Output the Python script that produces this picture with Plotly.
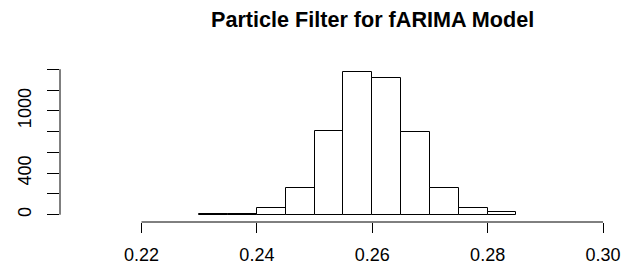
import plotly.graph_objects as go

# Histogram data (bin start, counts)
bin_starts = [0.230, 0.235, 0.240, 0.245, 0.250, 0.255, 0.260, 0.265, 0.270, 0.275, 0.280]
bin_width = 0.005
counts = [10, 6, 64, 259, 807, 1377, 1313, 800, 256, 64, 22]

x_tick_vals = [0.22, 0.24, 0.26, 0.28, 0.30]
x_tick_text = ["0.22", "0.24", "0.26", "0.28", "0.30"]
y_tick_vals = [0, 200, 400, 600, 800, 1000, 1200, 1400]
y_tick_text = ["0", "", "400", "", "", "1000", "", ""]

title = "Particle Filter for fARIMA Model"

centers = [s + bin_width / 2 for s in bin_starts]

fig = go.Figure()
fig.add_trace(go.Bar(
    x=centers, y=counts, width=[bin_width] * len(counts),
    marker=dict(color="white", line=dict(color="black", width=1)),
    hoverinfo="x+y",
))

# axis lines spanning only the tick range (R style)
fig.add_shape(type="line", xref="x", yref="paper", x0=x_tick_vals[0], x1=x_tick_vals[-1], y0=0, y1=0,
              line=dict(color="black", width=1))
fig.add_shape(type="line", xref="paper", yref="y", x0=0, x1=0, y0=y_tick_vals[0], y1=y_tick_vals[-1],
              line=dict(color="black", width=1))

W, H = 626, 271
ml, mr, mt, mb = 60, 0, 50, 49
fig.add_annotation(text="<b>" + title + "</b>", xref="paper", yref="paper",
                   x=(372 - ml) / (W - ml - mr), y=(H - mb - 20) / (H - mt - mb),
                   xanchor="center", yanchor="middle", showarrow=False,
                   font=dict(size=21.6, color="black"))

fig.update_layout(
    width=W, height=H,
    margin=dict(l=ml, r=mr, t=mt, b=mb),
    paper_bgcolor="white", plot_bgcolor="white",
    font=dict(family="Liberation Sans, Arial, sans-serif", size=18, color="black"),
    showlegend=False, bargap=0,
    xaxis=dict(range=[0.205872, 0.303987], tickvals=x_tick_vals, ticktext=x_tick_text,
               ticks="outside", ticklen=10, tickcolor="black", tickwidth=1, ticklabelstandoff=6,
               showline=False, showgrid=False, zeroline=False, fixedrange=True),
    yaxis=dict(range=[-70, 1585], tickvals=y_tick_vals, ticktext=y_tick_text,
               ticks="outside", ticklen=12, tickcolor="black", tickwidth=1, tickangle=-90,
               ticklabelstandoff=9,
               showline=False, showgrid=False, zeroline=False, fixedrange=True),
)

fig.write_html("out.html", config={"displayModeBar": False},
               post_script="document.body.style.margin='0px';document.body.style.overflow='hidden';")
